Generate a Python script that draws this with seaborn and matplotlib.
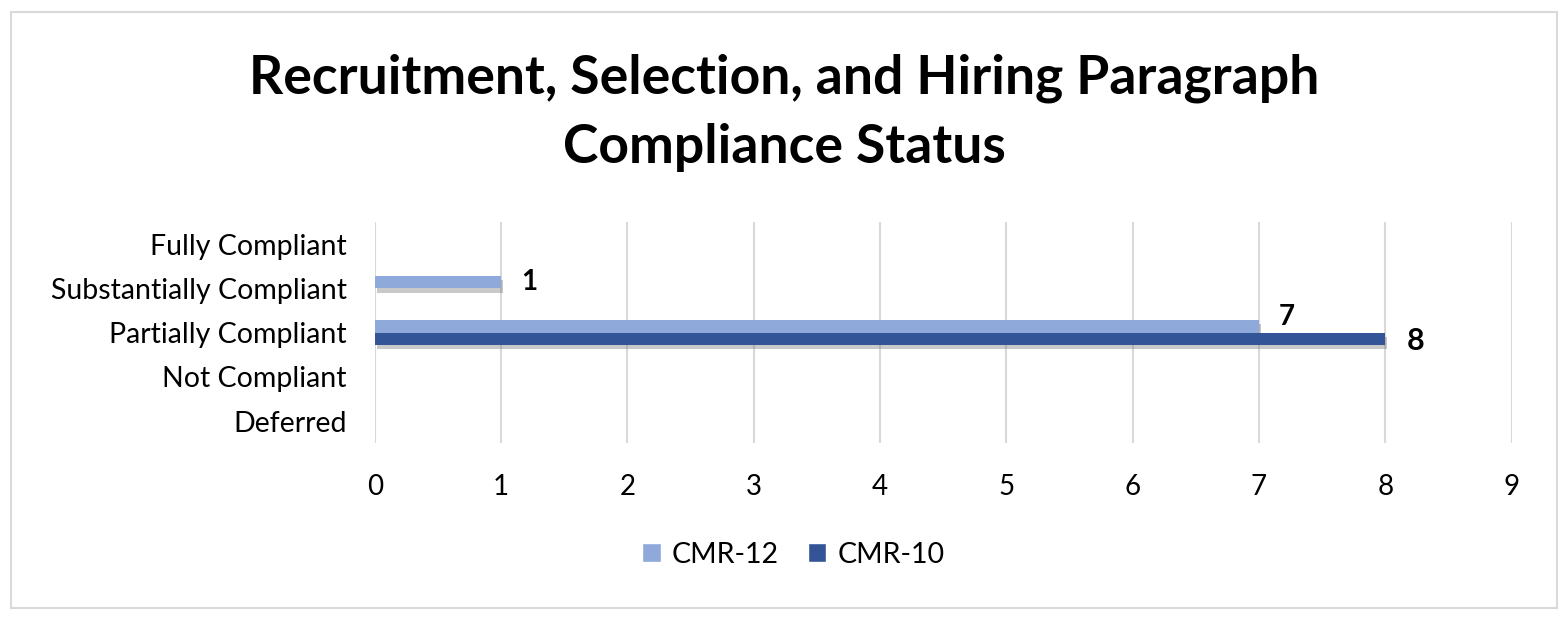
import matplotlib

matplotlib.use("Agg")
import matplotlib.pyplot as plt  # noqa: E402
import matplotlib.patheffects as pe  # noqa: E402
from matplotlib.patches import Rectangle  # noqa: E402
import pandas as pd  # noqa: E402
import seaborn as sns  # noqa: E402

# Dados
categorias = ["Fully Compliant", "Substantially Compliant", "Partially Compliant", "Not Compliant", "Deferred"]
series = ["CMR-12", "CMR-10"]
valores_cmr12 = [0, 1, 7, 0, 0]
valores_cmr10 = [0, 0, 8, 0, 0]
ticks_x = [0, 1, 2, 3, 4, 5, 6, 7, 8, 9]

cores = {"CMR-12": "#8FA9DA", "CMR-10": "#335598"}

sns.set_theme(style="white")
plt.rcParams["font.family"] = ["Lato", "DejaVu Sans"]
plt.rcParams["text.color"] = "black"
plt.rcParams["xtick.color"] = "black"
plt.rcParams["ytick.color"] = "black"

df = pd.DataFrame(
    {
        "categoria": categorias * 2,
        "serie": ["CMR-12"] * len(categorias) + ["CMR-10"] * len(categorias),
        "valor": valores_cmr12 + valores_cmr10,
    }
)

fig = plt.figure(figsize=(15.68, 6.2), dpi=100)
ax = fig.add_axes([0.239, 0.285, 0.725, 0.357])

sns.barplot(
    data=df,
    y="categoria",
    x="valor",
    hue="serie",
    order=categorias,
    hue_order=series,
    palette=cores,
    orient="h",
    width=0.56,
    gap=0,
    saturation=1,
    errorbar=None,
    ax=ax,
)

# legenda (antes das sombras, para os quadrados ficarem limpos)
handles, labels = ax.get_legend_handles_labels()
ax.legend_.remove()
fig.legend(
    handles,
    labels,
    loc="center",
    bbox_to_anchor=(0.506, 0.105),
    ncol=2,
    frameon=False,
    fontsize=20.5,
    handlelength=0.65,
    handleheight=0.65,
    handletextpad=0.4,
    columnspacing=1.0,
)

# sombra suave nas barras
for barra in ax.patches:
    barra.set_linewidth(0)
    barra.set_path_effects([pe.SimplePatchShadow(offset=(1.5, -3), shadow_rgbFace="#666666", alpha=0.35), pe.Normal()])

ax.set_xlim(0, 9)
ax.set_xticks(ticks_x)
ax.set_xticklabels([str(t) for t in ticks_x], fontsize=20)
ax.tick_params(axis="y", labelsize=20.5, length=0, pad=20)
ax.tick_params(axis="x", length=0, pad=22)
ax.set_xlabel("")
ax.set_ylabel("")
ax.grid(True, axis="x", color="#D9D9D9", linewidth=1.5)
ax.set_axisbelow(True)
for lado in ["top", "right", "bottom", "left"]:
    ax.spines[lado].set_visible(False)

# rotulos de dados
for i, v in enumerate(valores_cmr12):
    if v > 0:
        ax.text(v + 0.16, i - 0.14 if v != 7 else i - 0.35, str(v), fontsize=20, fontweight="bold", va="center", ha="left")
for i, v in enumerate(valores_cmr10):
    if v > 0:
        ax.text(v + 0.17, i + 0.18, str(v), fontsize=22, fontweight="bold", va="center", ha="left")

fig.text(
    0.5,
    0.818,
    "Recruitment, Selection, and Hiring Paragraph\nCompliance Status",
    ha="center",
    va="center",
    fontsize=38.5,
    fontweight="bold",
    linespacing=1.52,
)

fig.patches.append(
    Rectangle((11 / 1568, 12 / 620), 1546 / 1568, 596 / 620, transform=fig.transFigure, fill=False, edgecolor="#D9D9D9", linewidth=1.5)
)

fig.savefig("out.png", dpi=100)
